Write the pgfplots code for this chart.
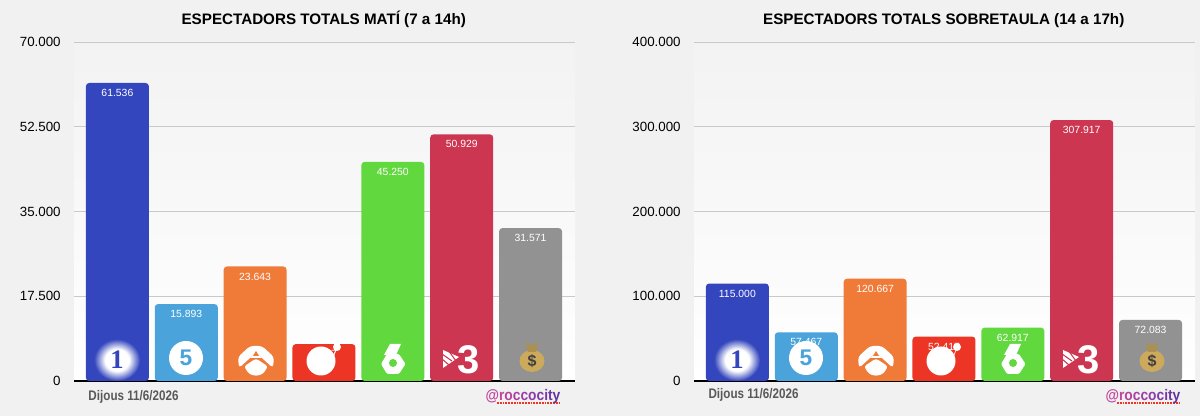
\documentclass[border=0pt]{standalone}
\usepackage{fontspec}
\setmainfont{Liberation Sans}
\newfontfamily\narrowbold[FakeStretch=0.84]{Liberation Sans Bold}
\newfontfamily\handlefont[FakeStretch=0.90]{Liberation Sans Bold}
\newfontfamily\serifbold{Liberation Serif Bold}
\usepackage{pgfplots}
\pgfplotsset{compat=1.18}
\definecolor{bgc}{HTML}{F1F1F1}
\definecolor{cblue}{HTML}{3346BD}
\definecolor{csky}{HTML}{4AA3DB}
\definecolor{corange}{HTML}{F07B38}
\definecolor{cred}{HTML}{EC3524}
\definecolor{cgreen}{HTML}{62D83F}
\definecolor{ccrim}{HTML}{CC3650}
\definecolor{cgray}{HTML}{929292}
\definecolor{cgrid}{HTML}{C9C9C9}
\definecolor{cbag}{HTML}{CDA95C}
\pgfdeclareradialshading{glow}{\pgfpointorigin}{color(0bp)=(white);color(13bp)=(white);color(25bp)=(cblue);color(50bp)=(cblue)}
\pgfplotsset{
  chan/.style={
    scale only axis, width=375.75pt, height=254.25pt,
    ybar, bar width=47.25pt, bar shift=0pt,
    xmin=-0.63, xmax=6.645, ymin=0,
    axis x line=bottom, axis y line=left,
    x axis line style={black,line width=1.1pt,-},
    y axis line style={draw=none},
    xtick=\empty,
    major tick length=0pt,
    ymajorgrids, grid style={cgrid,line width=0.7pt},
    axis background/.style={top color=bgc!90!white,bottom color=white},
    /pgf/number format/assume math mode=true,
    /pgf/number format/fixed,
    /pgf/number format/precision=0,
    /pgf/number format/1000 sep={.},
    scaled y ticks=false,
    tick label style={font=\fontsize{10pt}{11pt}\selectfont,black},
    yticklabel style={xshift=-6.5pt},
    nodes near coords,
    every node near coord/.style={anchor=center,yshift=-7.5pt,font=\fontsize{7.8pt}{9pt}\selectfont,text=white,inner sep=0pt},
    title style={at={(0.4985,1)},font=\bfseries\fontsize{11.4pt}{12pt}\selectfont,anchor=base,text height=8pt,text depth=2.5pt,yshift=7pt},
  },
  b/.style={fill=#1,draw=none,rounded corners=2.5pt},
}
\newcommand{\logos}{%
  % La 1
  \shade[shading=glow] (117,360) ellipse (23 and 21);
  \node[text=cblue,font=\serifbold\fontsize{20pt}{20pt}\selectfont,inner sep=0pt] at (117,360) {1};
  % T5
  \fill[white] (186,358) circle (17);
  \node[text=csky,font=\bfseries\fontsize{17pt}{17pt}\selectfont,inner sep=0pt] at (186,358) {5};
  % A3
  \fill[white,rounded corners=2.5pt] (250,346) -- (262,346) -- (274,357) -- (273,368) -- (262,358) -- (256,352) -- (250,358) -- (239,368) -- (238,357) -- cycle;
  \fill[white] (262,358) -- (256,352) -- (250,358) -- cycle;
  \fill[corange] (256,351) -- (253,356) -- (259,356) -- cycle;
  \fill[white,rounded corners=2pt] (256,358.5) -- (268,366.5) -- (263,374) -- (256,376) -- (249,374) -- (244,366.5) -- cycle;
  % Cuatro
  \fill[white] (321,361) circle (14.5);
  \draw[white,line width=0.5pt] (337,347) -- (333,358);
  \fill[white] (337,347) circle (4);
  % La Sexta
  \fill[white] (390,344) -- (401,344) -- (396,355) -- (384,355) -- cycle;
  \fill[white,rounded corners=1pt] (381,364) -- (387,354) -- (399,354) -- (405.5,364) -- (399,374) -- (387,374) -- cycle;
  \fill[cgreen] (393,363) circle (4);
  % TV3
  \node[text=white,font=\bfseries\fontsize{30pt}{30pt}\selectfont,inner sep=0pt] at (469,360) {3};
  \fill[white] (443,350) -- (459,357) -- (443,368) -- cycle;
  \draw[ccrim,line width=0.8pt] (442,354) -- (452,361);
  \draw[ccrim,line width=0.8pt] (442,359) -- (449,365);
  \draw[ccrim,line width=0.8pt] (448,350) -- (456,361);
  % Bag
  \fill[cbag] (532,361) ellipse (12.5 and 11);
  \fill[cbag!85!black] (526,342) -- (532,346) -- (538,342) -- (536,352) -- (528,352) -- cycle;
  \node[text=black!75,font=\bfseries\fontsize{12pt}{12pt}\selectfont,inner sep=0pt] at (532,361) {\$};
}
\newcommand{\foot}[1]{%
  \node[anchor=center,inner sep=0pt,text=black!65,font=\narrowbold\fontsize{10.4pt}{11pt}\selectfont] at (133.5,#1) {Dijous 11/6/2026};
  \draw[cred,line width=0.85pt,dash pattern=on 1.3pt off 0.8pt] (497,403) -- (559.5,403);
  \node[anchor=center,inner sep=0pt,font=\handlefont\fontsize{11.5pt}{12pt}\selectfont] at (523,396.5) {\textcolor[HTML]{C2449A}{@r}\textcolor[HTML]{B5429F}{o}\textcolor[HTML]{A840A3}{c}\textcolor[HTML]{9B3EA6}{c}\textcolor[HTML]{8E3CA8}{o}\textcolor[HTML]{823AA8}{c}\textcolor[HTML]{7638A6}{i}\textcolor[HTML]{6C36A3}{t}\textcolor[HTML]{62349F}{y}};
}
\begin{document}
\begin{tikzpicture}
\fill[bgc] (0,0) rectangle (900pt,312pt);
\useasboundingbox (0,0) rectangle (900pt,312pt);
\begin{axis}[chan, at={(55.5pt,26.25pt)}, ymax=70000,
  ytick={0,17500,35000,52500,70000},
  title={ESPECTADORS TOTALS MATÍ (7 a 14h)}]
\addplot[b=cblue] coordinates {(0,61536)};
\addplot[b=csky] coordinates {(1,15893)};
\addplot[b=corange] coordinates {(2,23643)};
\addplot[b=cred] coordinates {(3,7617)};
\addplot[b=cgreen] coordinates {(4,45250)};
\addplot[b=ccrim] coordinates {(5,50929)};
\addplot[b=cgray] coordinates {(6,31571)};
\end{axis}
\begin{axis}[chan, at={(520.5pt,26.25pt)}, ymax=400000,
  ytick={0,100000,200000,300000,400000},
  title={ESPECTADORS TOTALS SOBRETAULA (14 a 17h)}]
\addplot[b=cblue] coordinates {(0,115000)};
\addplot[b=csky] coordinates {(1,57467)};
\addplot[b=corange] coordinates {(2,120667)};
\addplot[b=cred] coordinates {(3,52417)};
\addplot[b=cgreen] coordinates {(4,62917)};
\addplot[b=ccrim] coordinates {(5,307917)};
\addplot[b=cgray] coordinates {(6,72083)};
\end{axis}
\begin{scope}[x=0.75pt,y=-0.75pt,yshift=312pt]
  \logos \foot{396.5}
\end{scope}
\begin{scope}[x=0.75pt,y=-0.75pt,yshift=312pt,xshift=465pt]
  \logos \foot{395}
\end{scope}
\end{tikzpicture}
\end{document}
